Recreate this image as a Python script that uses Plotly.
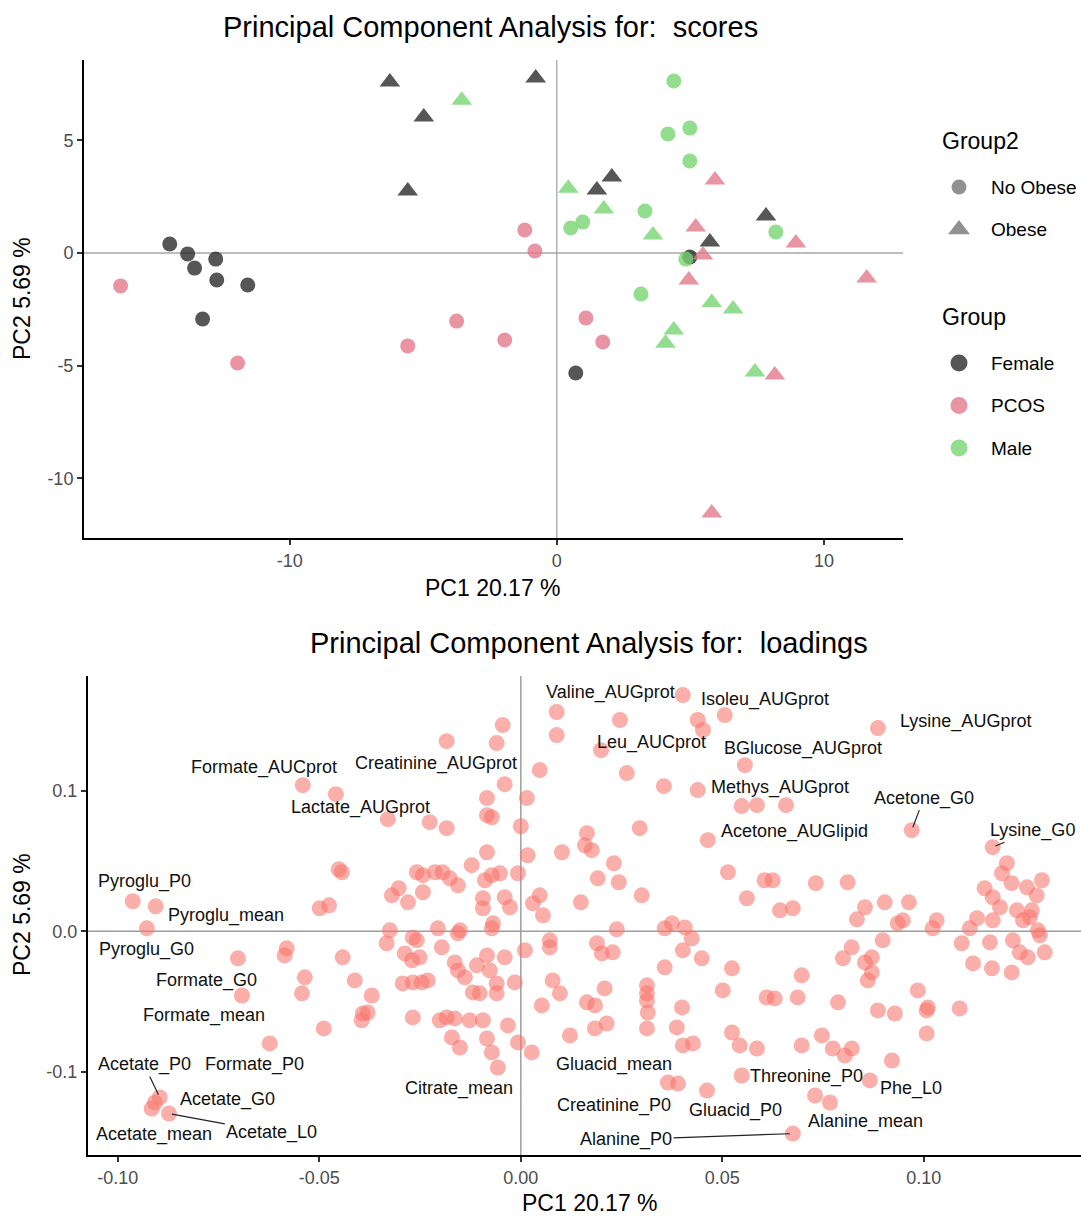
import plotly.graph_objects as go
from plotly.subplots import make_subplots

FONT = "Liberation Sans, Arial, sans-serif"

# ---------------- Scores (PC1, PC2) ----------------
female_circle_pc1 = [-14.49, -13.82, -13.56, -12.77, -12.73, -11.57, -13.26, 0.71, 4.98]
female_circle_pc2 = [0.40, -0.04, -0.67, -0.27, -1.20, -1.42, -2.93, -5.32, -0.18]
female_tri_pc1 = [-6.25, -4.98, -5.58, -0.79, 1.50, 2.06, 5.73, 7.83]
female_tri_pc2 = [7.58, 6.03, 2.75, 7.76, 2.79, 3.37, 0.49, 1.64]

pcos_circle_pc1 = [-16.33, -11.95, -3.75, -5.58, -1.95, -1.20, -0.82, 1.09, 1.72]
pcos_circle_pc2 = [-1.46, -4.88, -3.02, -4.12, -3.86, 1.02, 0.09, -2.88, -3.95]
pcos_tri_pc1 = [5.92, 5.20, 5.47, 4.94, 8.95, 11.60, 8.16, 5.80]
pcos_tri_pc2 = [3.24, 1.15, -0.09, -1.20, 0.44, -1.11, -5.41, -11.53]

male_circle_pc1 = [4.38, 4.16, 4.98, 4.98, 3.30, 0.52, 0.97, 8.20, 4.83, 3.15]
male_circle_pc2 = [7.63, 5.28, 5.54, 4.08, 1.86, 1.11, 1.37, 0.93, -0.27, -1.82]
male_tri_pc1 = [-3.56, 0.43, 1.76, 3.60, 5.80, 6.60, 4.38, 4.07, 7.42]
male_tri_pc2 = [6.78, 2.87, 1.95, 0.80, -2.20, -2.48, -3.41, -4.00, -5.28]

group_names = ["Female", "PCOS", "Male"]
group_colors = ["rgba(38,38,38,0.78)", "rgba(226,118,136,0.78)", "rgba(116,211,111,0.78)"]
shape_names = ["No Obese", "Obese"]
shape_symbols = ["circle", "triangle-up"]

score_sets = [
    (0, 0, female_circle_pc1, female_circle_pc2),
    (0, 1, female_tri_pc1, female_tri_pc2),
    (1, 0, pcos_circle_pc1, pcos_circle_pc2),
    (1, 1, pcos_tri_pc1, pcos_tri_pc2),
    (2, 0, male_circle_pc1, male_circle_pc2),
    (2, 1, male_tri_pc1, male_tri_pc2),
]

# ---------------- Loadings (PC1, PC2) ----------------
load_pc1 = [
    -0.0541, -0.0459, -0.0330, -0.0452, -0.0444, -0.0963, -0.0906, -0.0928, -0.0499, -0.0476,
    -0.0320, -0.0303, -0.0280, -0.0258, -0.0325, -0.0243, -0.0213, -0.0194, -0.0176, -0.0156,
    -0.0243, -0.0122, -0.0084, 0.0017, -0.0089, -0.0072, -0.0052, -0.0007, -0.0094, -0.0094,
    -0.0040, -0.0027, 0.0030, 0.0047, 0.0055, -0.0069, -0.0072, -0.0333, -0.0268, -0.0258,
    -0.0206, -0.0151, -0.0196, -0.0156, -0.0581, -0.0586, -0.0442, -0.0288, -0.0270, -0.0251,
    -0.0164, -0.0156, -0.0139, -0.0109, -0.0084, -0.0077, -0.0040, 0.0010, -0.0536, -0.0543,
    -0.0412, -0.0370, -0.0293, -0.0268, -0.0246, -0.0231, -0.0119, -0.0102, -0.0060, -0.0060,
    -0.0015, 0.0052, -0.0392, -0.0380, -0.0395, -0.0489, -0.0623, -0.0268, -0.0201, -0.0184,
    -0.0164, -0.0127, -0.0094, -0.0171, -0.0151, -0.0084, -0.0072, -0.0057, -0.0032, -0.0007,
    0.0027, -0.0702, -0.0692, -0.0896, -0.0908, -0.0916, -0.0873, 0.0402, 0.0089, 0.0089,
    0.0246, 0.0439, 0.0452, 0.0506, 0.0199, 0.0263, 0.0355, 0.0439, 0.0047, -0.0045,
    -0.0060, -0.0184, -0.0040, -0.0084, -0.0084, -0.0072, 0.0015, 0.0000, -0.0226, -0.0184,
    0.0295, 0.0464, 0.0164, 0.0159, 0.0176, 0.0102, 0.0231, 0.0243, 0.0191, 0.0300,
    0.0514, 0.0149, 0.0357, 0.0375, 0.0407, 0.0238, 0.0072, 0.0072, 0.0886, 0.0556,
    0.0548, 0.0586, 0.0658, 0.0970, 0.1171, 0.1206, 0.1194, 0.1218, 0.1293, 0.1256,
    0.1280, 0.1151, 0.1171, 0.1189, 0.1231, 0.1268, 0.1246, 0.1263, 0.0605, 0.0625,
    0.0561, 0.0643, 0.0675, 0.0732, 0.0811, 0.0854, 0.0903, 0.0963, 0.0834, 0.0935,
    0.0948, 0.1032, 0.1022, 0.1132, 0.1114, 0.1171, 0.1283, 0.0189, 0.0201, 0.0228,
    0.0424, 0.0402, 0.0449, 0.0357, 0.0524, 0.0501, 0.0079, 0.0097, 0.0208, 0.0164,
    0.0184, 0.0313, 0.0313, 0.0313, 0.0315, 0.0400, 0.0122, 0.0184, 0.0213, 0.0313,
    0.0387, 0.0402, 0.0427, 0.0524, 0.0365, 0.0390, 0.0462, 0.0697, 0.0821, 0.0799,
    0.0854, 0.0871, 0.0871, 0.0861, 0.0898, 0.0985, 0.1007, 0.1010, 0.1007, 0.0886,
    0.0928, 0.0921, 0.0787, 0.0687, 0.0610, 0.0630, 0.0543, 0.0586, 0.0697, 0.0747,
    0.0774, 0.0804, 0.0821, 0.1094, 0.1164, 0.1221, 0.1288, 0.1238, 0.1258, 0.1300,
    0.1122, 0.1169, 0.1218, 0.1089, 0.0548, 0.0866, 0.0730, 0.0767, 0.0675,
]
load_pc2 = [
    0.1039, 0.0975, 0.0797, 0.0441, 0.0420, 0.0214, 0.0178, 0.0021, 0.0164, 0.0185,
    0.0256, 0.0306, 0.0206, 0.0420, 0.0007, 0.0399, 0.0420, 0.0420, 0.0377, 0.0327,
    0.0278, 0.0470, 0.0562, 0.0541, 0.0363, 0.0399, 0.0413, 0.0413, 0.0235, 0.0164,
    0.0242, 0.0171, 0.0199, 0.0256, 0.0114, 0.0057, 0.0021, -0.0085, -0.0043, -0.0064,
    0.0021, 0.0007, -0.0114, -0.0014, -0.0121, -0.0171, -0.0185, -0.0157, -0.0206, -0.0185,
    -0.0221, -0.0278, -0.0327, -0.0242, -0.0171, -0.0278, -0.0185, -0.0135, -0.0327, -0.0441,
    -0.0349, -0.0456, -0.0370, -0.0363, -0.0363, -0.0349, -0.0434, -0.0441, -0.0370, -0.0441,
    -0.0363, -0.0527, -0.0584, -0.0577, -0.0633, -0.0690, -0.0797, -0.0612, -0.0633, -0.0612,
    -0.0619, -0.0633, -0.0633, -0.0754, -0.0826, -0.0762, -0.0861, -0.0968, -0.0669, -0.0790,
    -0.0861, -0.0192, -0.0456, -0.1181, -0.1217, -0.1260, -0.1295, 0.1680, 0.1559, 0.1395,
    0.1502, 0.1502, 0.1431, 0.1537, 0.1288, 0.1125, 0.1032, 0.1004, 0.1146, 0.1466,
    0.1338, 0.1352, 0.1046, 0.0947, 0.0826, 0.0811, 0.0947, 0.0747, 0.0776, 0.0733,
    0.0733, 0.0648, 0.0698, 0.0612, 0.0577, 0.0562, 0.0484, 0.0349, 0.0377, 0.0256,
    0.0420, 0.0206, 0.0021, 0.0057, 0.0028, 0.0014, -0.0064, -0.0114, 0.1445, 0.1181,
    0.0890, 0.0897, 0.0897, 0.0719, 0.0598, 0.0484, 0.0413, 0.0342, 0.0363, 0.0313,
    0.0256, 0.0306, 0.0242, 0.0171, 0.0149, 0.0149, 0.0078, 0.0100, 0.0363, 0.0363,
    0.0235, 0.0149, 0.0164, 0.0342, 0.0349, 0.0171, 0.0206, 0.0206, 0.0085, 0.0057,
    0.0078, 0.0078, 0.0021, 0.0093, 0.0021, 0.0078, 0.0007, -0.0085, -0.0157, -0.0149,
    -0.0050, -0.0135, -0.0192, -0.0256, -0.0263, -0.0420, -0.0349, -0.0441, -0.0406, -0.0505,
    -0.0527, -0.0384, -0.0441, -0.0491, -0.0577, -0.0541, -0.0740, -0.0690, -0.0655, -0.0690,
    -0.0683, -0.0811, -0.0797, -0.0719, -0.1075, -0.1082, -0.1132, -0.0313, -0.0114, -0.0192,
    -0.0221, -0.0185, -0.0292, -0.0349, -0.0064, -0.0420, -0.0562, -0.0541, -0.0726, -0.0562,
    -0.0584, -0.0918, -0.0505, -0.0470, -0.0470, -0.0477, -0.0811, -0.0833, -0.0811, -0.0740,
    -0.0833, -0.0883, -0.0833, -0.0085, -0.0078, -0.0064, -0.0028, -0.0149, -0.0185, -0.0149,
    -0.0228, -0.0263, -0.0292, -0.0548, -0.1025, -0.1060, -0.1167, -0.1217, -0.1438,
]
assert len(load_pc1) == len(load_pc2)

# text labels of the loadings plot (label positions)
label_text = ["Valine_AUGprot", "Isoleu_AUGprot", "Lysine_AUGprot", "Formate_AUCprot",
              "Creatinine_AUGprot", "Leu_AUCprot", "BGlucose_AUGprot", "Methys_AUGprot",
              "Acetone_G0", "Lactate_AUGprot", "Acetone_AUGlipid", "Lysine_G0",
              "Pyroglu_P0", "Pyroglu_mean", "Pyroglu_G0", "Formate_G0", "Formate_mean",
              "Acetate_P0", "Formate_P0", "Acetate_G0", "Acetate_mean", "Acetate_L0",
              "Citrate_mean", "Gluacid_mean", "Creatinine_P0", "Gluacid_P0", "Alanine_P0",
              "Threonine_P0", "Phe_L0", "Alanine_mean"]
label_pc1 = [0.0223, 0.0605, 0.1104, -0.0638, -0.0211, 0.0325, 0.0700, 0.0643, 0.1000, -0.0397,
             0.0680, 0.1270, -0.0933, -0.0732, -0.0928, -0.0779, -0.0787, -0.0935, -0.0660,
             -0.0727, -0.0911, -0.0618, -0.0154, 0.0231, 0.0231, 0.0533, 0.0261, 0.0710,
             0.0968, 0.0856]
label_pc2 = [0.1701, 0.1651, 0.1495, 0.1167, 0.1196, 0.1345, 0.1302, 0.1025, 0.0947, 0.0883,
             0.0712, 0.0719, 0.0356, 0.0114, -0.0128, -0.0349, -0.0598, -0.0947, -0.0947,
             -0.1196, -0.1445, -0.1431, -0.1117, -0.0947, -0.1238, -0.1274, -0.1480, -0.1032,
             -0.1117, -0.1352]
# labels that are connected to their point by a segment
seg_label = ["Acetone_G0", "Acetate_P0", "Acetate_L0", "Alanine_P0", "Lysine_G0"]
seg_pc1 = [0.0970, -0.0896, -0.0873, 0.0675, 0.1171]
seg_pc2 = [0.0719, -0.1181, -0.1295, -0.1438, 0.0598]

# axis ticks
score_xticks = [-10, 0, 10]
score_yticks = [-10, -5, 0, 5]
load_xticks = [-0.10, -0.05, 0.00, 0.05, 0.10]
load_yticks = [-0.1, 0.0, 0.1]

fig = make_subplots(rows=2, cols=1)

for gi, si, xs, ys in score_sets:
    fig.add_trace(go.Scatter(
        x=xs, y=ys, mode="markers", showlegend=False,
        name=f"{group_names[gi]} {shape_names[si]}",
        marker=dict(symbol=shape_symbols[si], color=group_colors[gi],
                    size=15 if si == 0 else 18, line=dict(width=0)),
    ), row=1, col=1)

fig.add_trace(go.Scatter(
    x=load_pc1, y=load_pc2, mode="markers", showlegend=False, name="loadings",
    marker=dict(color="rgba(248,118,109,0.58)", size=16, line=dict(width=0)),
), row=2, col=1)

tickfont = dict(family=FONT, size=18, color="#4D4D4D")
axis_common = dict(showgrid=False, zeroline=False, showline=True, linecolor="black",
                   linewidth=2, ticks="outside", ticklen=5, tickwidth=1.5,
                   tickcolor="#333333", tickfont=tickfont, mirror=False)

fig.update_layout(
    xaxis=dict(domain=[84 / 1081, 903 / 1081], range=[-17.7, 12.96],
               tickvals=score_xticks, ticktext=[str(v) for v in score_xticks], **axis_common),
    yaxis=dict(domain=[1 - 538 / 1220, 1 - 60 / 1220], range=[-12.64, 8.56],
               tickvals=score_yticks, ticktext=[str(v) for v in score_yticks], **axis_common),
    xaxis2=dict(domain=[88 / 1081, 1.0], range=[-0.1074, 0.139],
                tickvals=load_xticks, ticktext=[f"{v:.2f}" for v in load_xticks], **axis_common),
    yaxis2=dict(domain=[1 - 1155 / 1220, 1 - 676 / 1220], range=[-0.159, 0.1815],
                tickvals=load_yticks, ticktext=[f"{v:.1f}" for v in load_yticks], **axis_common),
    xaxis3=dict(domain=[940 / 1081, 1.0], range=[940, 1081], visible=False, anchor="y3"),
    yaxis3=dict(domain=[1 - 470 / 1220, 1 - 120 / 1220], range=[470, 120], visible=False,
                anchor="x3"),
)

# zero reference lines
fig.add_hline(y=0, line=dict(color="#BDBDBD", width=2), layer="below", row=1, col=1)
fig.add_vline(x=0, line=dict(color="#A0A0A0", width=1.2), layer="below", row=1, col=1)
fig.add_hline(y=0, line=dict(color="#9E9E9E", width=1.5), layer="below", row=2, col=1)
fig.add_vline(x=0, line=dict(color="#9E9E9E", width=1.5), layer="below", row=2, col=1)

# ---- manual legend (drawn through a hidden axis) ----
leg_title_y = [141, 317]
leg_first_offset = 46
leg_step = 42.5
marker_x = 959
text_x = 989
# shape legend
shape_y = [leg_title_y[0] + leg_first_offset + i * leg_step for i in range(len(shape_names))]
fig.add_trace(go.Scatter(
    x=[marker_x] * len(shape_names), y=shape_y, xaxis="x3", yaxis="y3", mode="markers",
    showlegend=False, hoverinfo="skip",
    marker=dict(symbol=shape_symbols, color="rgba(45,45,45,0.75)", size=[15, 19],
                line=dict(width=0)),
))
group_y = [leg_title_y[1] + leg_first_offset + i * leg_step for i in range(len(group_names))]
fig.add_trace(go.Scatter(
    x=[marker_x] * len(group_names), y=group_y, xaxis="x3", yaxis="y3", mode="markers",
    showlegend=False, hoverinfo="skip",
    marker=dict(symbol="circle", color=group_colors, size=17, line=dict(width=0)),
))
annotations = []
for t, ty in zip(["Group2", "Group"], leg_title_y):
    annotations.append(dict(x=940, y=ty, xref="x3", yref="y3", text=t, showarrow=False,
                            xanchor="left", yanchor="middle",
                            font=dict(family=FONT, size=23, color="black")))
for names, ys in ((shape_names, shape_y), (group_names, group_y)):
    for n, yy in zip(names, ys):
        annotations.append(dict(x=text_x, y=yy, xref="x3", yref="y3", text=n, showarrow=False,
                                xanchor="left", yanchor="middle",
                                font=dict(family=FONT, size=19, color="black")))

# ---- loadings labels ----
seg_lookup = {n: (px, py) for n, px, py in zip(seg_label, seg_pc1, seg_pc2)}
for t, lx, ly in zip(label_text, label_pc1, label_pc2):
    if t in seg_lookup:
        px, py = seg_lookup[t]
        annotations.append(dict(x=px, y=py, ax=lx, ay=ly, xref="x2", yref="y2",
                                axref="x2", ayref="y2", text=t, showarrow=True,
                                arrowhead=0, arrowwidth=1.2, arrowcolor="#222222",
                                standoff=3, font=dict(family=FONT, size=18, color="#111111")))
    else:
        annotations.append(dict(x=lx, y=ly, xref="x2", yref="y2", text=t, showarrow=False,
                                xanchor="center", yanchor="middle",
                                font=dict(family=FONT, size=18, color="#111111")))

# ---- titles ----
annotations += [
    dict(x=490 / 1081, y=1 - 27 / 1220, xref="paper", yref="paper",
         text="Principal Component Analysis for:\u00a0 scores", showarrow=False,
         xanchor="center", yanchor="middle", font=dict(family=FONT, size=29, color="black")),
    dict(x=589 / 1081, y=1 - 643 / 1220, xref="paper", yref="paper",
         text="Principal Component Analysis for:\u00a0 loadings", showarrow=False,
         xanchor="center", yanchor="middle", font=dict(family=FONT, size=29, color="black")),
    dict(x=493 / 1081, y=1 - 588 / 1220, xref="paper", yref="paper", text="PC1 20.17 %",
         showarrow=False, xanchor="center", yanchor="middle",
         font=dict(family=FONT, size=23, color="black")),
    dict(x=590 / 1081, y=1 - 1203 / 1220, xref="paper", yref="paper", text="PC1 20.17 %",
         showarrow=False, xanchor="center", yanchor="middle",
         font=dict(family=FONT, size=23, color="black")),
    dict(x=22 / 1081, y=1 - 299 / 1220, xref="paper", yref="paper", text="PC2 5.69 %",
         showarrow=False, textangle=-90, xanchor="center", yanchor="middle",
         font=dict(family=FONT, size=23, color="black")),
    dict(x=22 / 1081, y=1 - 915 / 1220, xref="paper", yref="paper", text="PC2 5.69 %",
         showarrow=False, textangle=-90, xanchor="center", yanchor="middle",
         font=dict(family=FONT, size=23, color="black")),
]

fig.update_layout(
    width=1081, height=1220, margin=dict(l=0, r=0, t=0, b=0),
    paper_bgcolor="white", plot_bgcolor="white",
    font=dict(family=FONT), showlegend=False, annotations=annotations,
)

fig.write_html("out.html")
